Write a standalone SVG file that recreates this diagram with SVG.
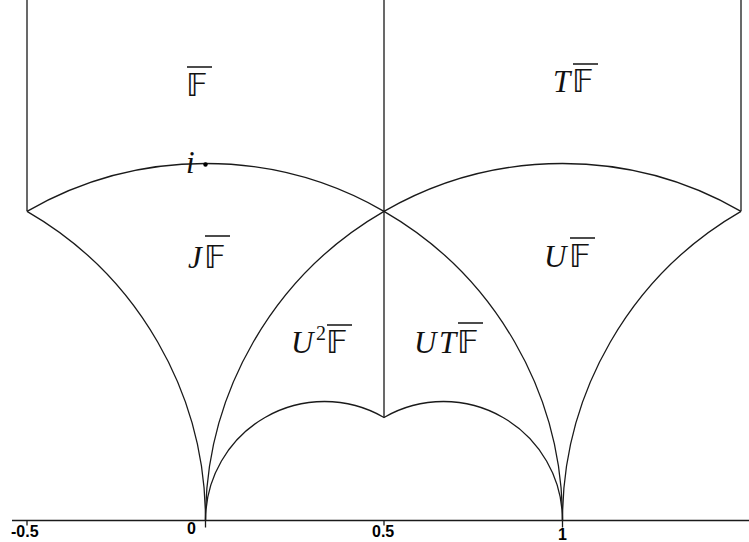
<svg xmlns="http://www.w3.org/2000/svg" width="749" height="542" viewBox="0 0 749 542">
<style>
.c{fill:none;stroke:#1a1a1a;stroke-width:1.3}
.it{font-family:"Liberation Serif","DejaVu Serif",serif;font-style:italic;font-size:31px;fill:#111}
.ds{font-family:"DejaVu Sans","DejaVu Serif","Noto Sans",sans-serif;font-size:32px;fill:#111;font-style:normal}
.sup{font-family:"Liberation Serif",serif;font-size:20px;fill:#111;font-style:normal}
.ax{font-family:"Liberation Sans",Arial,sans-serif;font-weight:bold;font-size:16px;fill:#000}
.ol{stroke:#111;stroke-width:1.5}
</style>
<rect width="749" height="542" fill="#fff"/>
<g id="connectors">
<path class="c" d="M27 0V211.33M384 0V417.44M741 0V211.33"/>
<path class="c" d="M27 211.33A357 357 0 0 1 384 211.33A357 357 0 0 1 741 211.33"/>
<path class="c" d="M27 211.33A357 357 0 0 1 205.5 520.5"/>
<path class="c" d="M384 211.33A357 357 0 0 0 205.5 520.5"/>
<path class="c" d="M384 211.33A357 357 0 0 1 562.5 520.5"/>
<path class="c" d="M741 211.33A357 357 0 0 0 562.5 520.5"/>
<path class="c" d="M205.5 520.5A119 119 0 0 1 384 417.44A119 119 0 0 1 562.5 520.5"/>
</g>
<g id="axis">
<line class="c" x1="12" y1="520.5" x2="749" y2="520.5"/>
<path class="c" d="M27 520.5v5M205.5 520.5v7M384 520.5v5M562.5 520.5v7"/>
<text class="ax" x="11" y="537">-0.5</text>
<text class="ax" x="187" y="534">0</text>
<text class="ax" x="372" y="537">0.5</text>
<text class="ax" x="558" y="540">1</text>
</g>
<g id="point-i">
<circle cx="205.5" cy="164.5" r="2.2" fill="#000"/>
<text class="it" x="186" y="173" font-size="30">i</text>
</g>
<g id="F">
<text class="ds" x="186" y="96">𝔽</text>
<line class="ol" x1="187" y1="67" x2="212" y2="67"/>
</g>
<g id="TF">
<text class="it" x="553" y="92">T</text>
<text class="ds" x="572" y="92">𝔽</text>
<line class="ol" x1="573" y1="64" x2="598" y2="64"/>
</g>
<g id="JF">
<text class="it" x="188" y="268">J</text>
<text class="ds" x="204" y="268">𝔽</text>
<line class="ol" x1="205" y1="236" x2="230" y2="236"/>
</g>
<g id="UF">
<text class="it" x="544" y="267">U</text>
<text class="ds" x="569" y="267">𝔽</text>
<line class="ol" x1="570" y1="238" x2="595" y2="238"/>
</g>
<g id="U2F">
<text class="it" x="291" y="353">U</text>
<text class="sup" x="316" y="340">2</text>
<text class="ds" x="326" y="353">𝔽</text>
<line class="ol" x1="327" y1="325" x2="352" y2="325"/>
</g>
<g id="UTF">
<text class="it" x="414" y="353">U</text>
<text class="it" x="439" y="353">T</text>
<text class="ds" x="457" y="353">𝔽</text>
<line class="ol" x1="458" y1="323" x2="483" y2="323"/>
</g>
</svg>
